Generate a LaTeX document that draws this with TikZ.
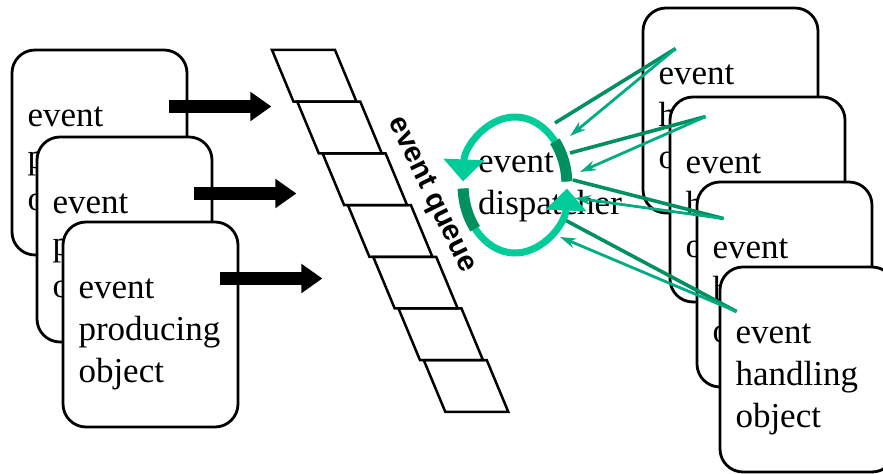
\documentclass[tikz,border=0pt]{standalone}
\usepackage{fontspec}
\setmainfont{Liberation Serif}
\setsansfont{Liberation Sans}
\usetikzlibrary{arrows.meta,calc}

\definecolor{spin}{HTML}{00CC99}
\definecolor{spindark}{HTML}{008F60}

\begin{document}
\begin{tikzpicture}[x=0.5pt,y=-0.5pt,font=\fontsize{17.5pt}{21pt}\selectfont,
 obj/.style={draw,line width=1.4pt,fill=white,rounded corners=11.5pt,minimum width=87.5pt,minimum height=102.5pt,
  text width=72pt,inner xsep=7.75pt,text height=20pt,align=left},
 push/.style={-{Triangle[width=14pt,length=10.5pt]},line width=6.5pt},
 cell/.style={line width=1.25pt},
 turn/.style={spin,line width=3.5pt,-{Triangle[width=20pt,length=11pt]}},
 ask/.style={spindark,line width=1.8pt},
 answer/.style={spin!85!black,line width=1.4pt,-{Stealth[length=8pt,width=5pt]}}]

\useasboundingbox (0,0) rectangle (883,474);

% producers
\node[obj] (p1) at (99.5,152.5) {event\\producing\\object};
\node[obj] (p2) at ($(p1)+(25,87)$) {event\\producing\\object};
\node[obj] (p3) at ($(p2)+(26,85)$) {event\\producing\\object};

% queue
\coordinate (qtop) at (272,50);
\foreach \i in {0,...,6}{\draw[cell] ($(qtop)+(\i*25.3,\i*51.7)$) -- ++(63,0) -- ++(21.5,51.7) -- ++(-63,0) -- cycle;}
\node[font=\sffamily\bfseries\fontsize{14.5pt}{16pt}\selectfont,rotate=-64,inner sep=0pt] (qname) at (431,195) {event queue};

\foreach \n in {p1,p2,p3}{
 \coordinate (in-\n) at ($(\n.east)+(83,-46)$);
 \draw[push] ($(\n.east)+(-19,-46)$) -- (in-\n);}

% handlers
\node[obj] (h1) at (730.5,110.5) {event\\handling\\object};
\node[obj] (h2) at ($(h1)+(27,89)$) {event\\handling\\object};
\node[obj] (h3) at ($(h2)+(27,85)$) {event\\handling\\object};
\node[obj] (h4) at ($(h3)+(23,85)$) {event\\handling\\object};

% dispatcher
\coordinate (hub) at (515,185);
\node[inner sep=0pt,align=left] (disp) at (550,187) {event\\dispatcher};

\coordinate (t1) at ($(h1.north west)+(34,42)$);
\coordinate (t2) at ($(h2.north west)+(37,21)$);
\coordinate (t3) at ($(h3.north west)+(28,38)$);
\coordinate (t4) at ($(h4.north west)+(18,46)$);
\foreach \t/\a/\b in {t1/{40,-62}/{55,-49},t2/{55,-32}/{65,-13},t3/{58,-5}/{60,13},t4/{50,35}/{45,52}}{
 \draw[ask] ($(hub)+(\a)$) -- (\t);
 \draw[answer] (\t) -- ($(hub)+(\b)$);}

\draw[turn] (hub) ++(-3:52 and 68) arc[start angle=-3,end angle=-177,x radius=52,y radius=68];
\draw[spindark,line width=5.5pt] (hub) ++(-3:52 and 68) arc[start angle=-3,end angle=-40,x radius=52,y radius=68];
\draw[turn] (hub) ++(177:52 and 68) arc[start angle=177,end angle=3,x radius=52,y radius=68];
\draw[spindark,line width=5.5pt] (hub) ++(177:52 and 68) arc[start angle=177,end angle=140,x radius=52,y radius=68];

\end{tikzpicture}
\end{document}
